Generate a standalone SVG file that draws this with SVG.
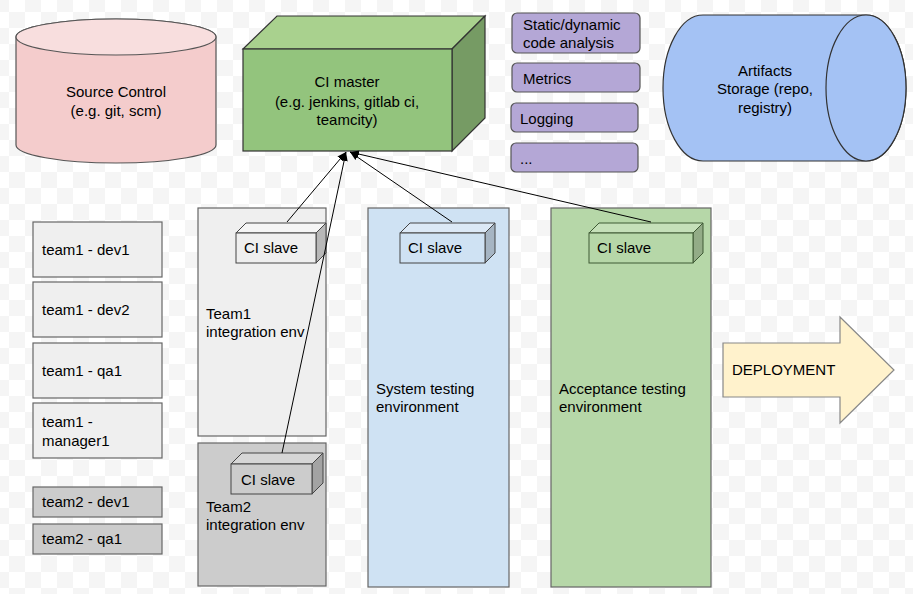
<svg xmlns="http://www.w3.org/2000/svg" width="913" height="594" viewBox="0 0 913 594">
<style>
text{font-family:"Liberation Sans",Arial,sans-serif;font-size:15px;fill:#000}
.c{text-anchor:middle}
.box{stroke:#666;stroke-width:1.2}
.t1{fill:#efefef}
.t2{fill:#cccccc}
.pur{fill:#b4a7d6;stroke:#555;stroke-width:1.2}
.edge{fill:none;stroke:#000;stroke-width:1}
</style>
<defs>
<pattern id="chk" x="9" y="12" width="32" height="32" patternUnits="userSpaceOnUse">
<rect width="32" height="32" fill="#ffffff"/>
<rect width="16" height="16" fill="#f5f5f5"/>
<rect x="16" y="16" width="16" height="16" fill="#f5f5f5"/>
</pattern>
<marker id="arr" viewBox="0 0 10 10" refX="10" refY="5" markerWidth="9" markerHeight="9" markerUnits="userSpaceOnUse" orient="auto">
<path d="M0,1 L10,5 L0,9 Z" fill="#000"/>
</marker>
</defs>
<rect width="913" height="594" fill="url(#chk)"/>

<g id="source-control">
<path d="M16,37 L16,145 A100,18 0 0 0 216,145 L216,37 A100,18 0 0 0 16,37 Z" fill="#f4cccc" stroke="#555" stroke-width="1.2"/>
<ellipse cx="116" cy="37" rx="100" ry="18" fill="#f8dede" stroke="#555" stroke-width="1.2"/>
<text class="c" x="116" y="97">Source Control</text>
<text class="c" x="116" y="116">(e.g. git, scm)</text>
</g>

<g id="ci-master">
<polygon points="243,49 277,16 485,16 452,49" fill="#a9d18e" stroke="#333" stroke-width="1.2"/>
<polygon points="452,49 485,16 485,118 452,151" fill="#769b64" stroke="#333" stroke-width="1.2"/>
<rect x="243" y="49" width="209" height="102" fill="#93c47d" stroke="#333" stroke-width="1.2"/>
<text class="c" x="347" y="87">CI master</text>
<text class="c" x="347" y="107">(e.g. jenkins, gitlab ci,</text>
<text class="c" x="347" y="125">teamcity)</text>
</g>

<g id="static-analysis">
<rect class="pur" x="512" y="13" width="128" height="40" rx="5"/>
<text x="523" y="30">Static/dynamic</text>
<text x="523" y="48">code analysis</text>
</g>
<g id="metrics">
<rect class="pur" x="512" y="63" width="128" height="29" rx="5"/>
<text x="523" y="84">Metrics</text>
</g>
<g id="logging">
<rect class="pur" x="511" y="103" width="127" height="29" rx="5"/>
<text x="520" y="124">Logging</text>
</g>
<g id="more">
<rect class="pur" x="511" y="143" width="127" height="29" rx="5"/>
<text x="520" y="164">...</text>
</g>

<g id="artifacts">
<path d="M703,15 L866,15 A40,73 0 0 1 866,161 L703,161 A40,73 0 0 1 703,15 Z" fill="#a4c2f4" stroke="#333" stroke-width="1.2"/>
<ellipse cx="866" cy="88" rx="40" ry="73" fill="#a4c2f4" stroke="#333" stroke-width="1.2"/>
<text class="c" x="765" y="76">Artifacts</text>
<text class="c" x="765" y="94">Storage (repo,</text>
<text class="c" x="765" y="113">registry)</text>
</g>

<g id="team1-dev1"><rect class="box t1" x="33" y="222" width="129" height="55"/><text x="42" y="255">team1 - dev1</text></g>
<g id="team1-dev2"><rect class="box t1" x="33" y="282" width="129" height="55"/><text x="42" y="315">team1 - dev2</text></g>
<g id="team1-qa1"><rect class="box t1" x="33" y="343" width="129" height="55"/><text x="42" y="376">team1 - qa1</text></g>
<g id="team1-manager1"><rect class="box t1" x="33" y="403" width="129" height="55"/><text x="42" y="427">team1 -</text><text x="42" y="446">manager1</text></g>
<g id="team2-dev1"><rect class="box t2" x="33" y="487" width="129" height="30"/><text x="42" y="507">team2 - dev1</text></g>
<g id="team2-qa1"><rect class="box t2" x="33" y="524" width="129" height="30"/><text x="42" y="544">team2 - qa1</text></g>

<g id="team1-env">
<rect class="box t1" x="198" y="208" width="128" height="228"/>
<text x="206" y="319">Team1</text>
<text x="206" y="337">integration env</text>
<polygon points="236,233 246,223 326,223 316,233" fill="#f5f5f5" stroke="#444" stroke-width="1"/>
<polygon points="316,233 326,223 326,253 316,263" fill="#b8b8b8" stroke="#444" stroke-width="1"/>
<rect x="236" y="233" width="80" height="30" fill="#efefef" stroke="#444" stroke-width="1"/>
<text x="244" y="253">CI slave</text>
</g>

<g id="team2-env">
<rect class="box t2" x="198" y="443" width="128" height="143"/>
<text x="206" y="512">Team2</text>
<text x="206" y="530">integration env</text>
<polygon points="231,464 242,453 323,453 312,464" fill="#d6d6d6" stroke="#444" stroke-width="1"/>
<polygon points="312,464 323,453 323,483 312,494" fill="#a3a3a3" stroke="#444" stroke-width="1"/>
<rect x="231" y="464" width="81" height="30" fill="#cccccc" stroke="#444" stroke-width="1"/>
<text x="241" y="485">CI slave</text>
</g>

<g id="system-env">
<rect class="box" x="368" y="208" width="141" height="379" fill="#cfe2f3"/>
<text x="376" y="394">System testing</text>
<text x="376" y="412">environment</text>
<polygon points="400,233 410,223 495,223 485,233" fill="#dce9f6" stroke="#444" stroke-width="1"/>
<polygon points="485,233 495,223 495,253 485,263" fill="#a6b5c3" stroke="#444" stroke-width="1"/>
<rect x="400" y="233" width="85" height="30" fill="#cfe2f3" stroke="#444" stroke-width="1"/>
<text x="408" y="253">CI slave</text>
</g>

<g id="acceptance-env">
<rect class="box" x="551" y="208" width="160" height="379" fill="#b6d7a8"/>
<text x="559" y="394">Acceptance testing</text>
<text x="559" y="412">environment</text>
<polygon points="589,233 599,223 703,223 693,233" fill="#c5e0b9" stroke="#3f5a35" stroke-width="1"/>
<polygon points="693,233 703,223 703,253 693,263" fill="#93ac87" stroke="#3f5a35" stroke-width="1"/>
<rect x="589" y="233" width="104" height="30" fill="#b6d7a8" stroke="#3f5a35" stroke-width="1"/>
<text x="597" y="253">CI slave</text>
</g>

<g id="deployment">
<polygon points="723,343 840,343 840,317 894,370 840,423 840,397 723,397" fill="#fff2cc" stroke="#888" stroke-width="1.2"/>
<text x="732" y="375">DEPLOYMENT</text>
</g>

<g id="connectors">
<line class="edge" x1="287" y1="222" x2="346" y2="152" marker-end="url(#arr)"/>
<line class="edge" x1="282" y1="453" x2="346" y2="152" marker-end="url(#arr)"/>
<line class="edge" x1="452" y1="222" x2="350" y2="152" marker-end="url(#arr)"/>
<line class="edge" x1="651" y1="222" x2="350" y2="152" marker-end="url(#arr)"/>
</g>
</svg>
